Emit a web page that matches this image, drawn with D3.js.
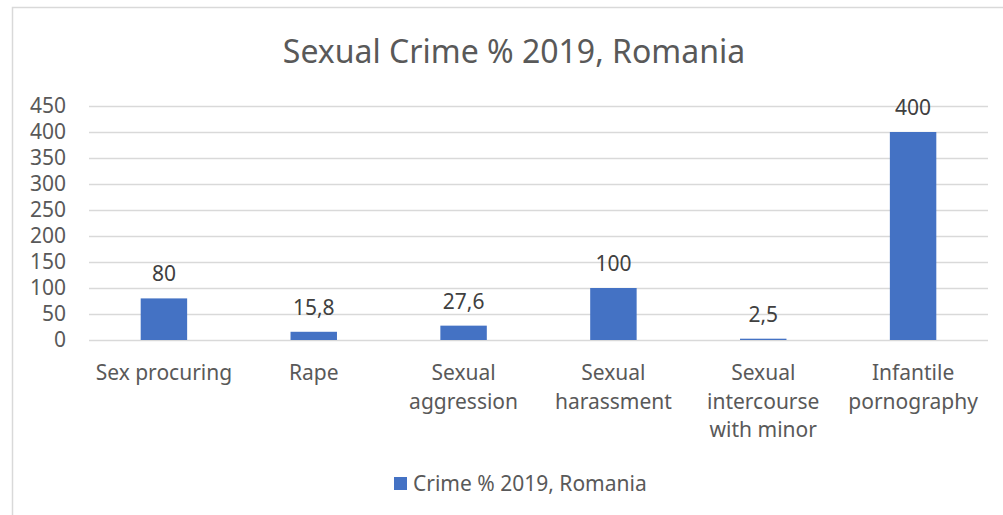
<!DOCTYPE html>
<html>
<head>
<meta charset="utf-8">
<script src="https://cdn.jsdelivr.net/npm/d3@7"></script>
<style>
  html, body { margin: 0; padding: 0; background: #fff; }
  svg { display: block; font-family: "Noto Sans", "Open Sans", sans-serif; }
</style>
</head>
<body>
<div id="chart"></div>
<script>
// data
const categories = ["Sex procuring", "Rape", "Sexual aggression", "Sexual harassment", "Sexual intercourse with minor", "Infantile pornography"];
const values = [80, 15.8, 27.6, 100, 2.5, 400];
const yTicks = [0, 50, 100, 150, 200, 250, 300, 350, 400, 450];
const seriesName = "Crime % 2019, Romania";
const title = "Sexual Crime % 2019, Romania";

const width = 1003, height = 515;
const margins = {top: 106, left: 89, right: 15, bottom: 175};
const textColor = "#595959", gridColor = "#d9d9d9", barColor = "#4472C4";

const svg = d3.select("#chart").append("svg")
    .attr("width", width)
    .attr("height", height);

// outer chart frame (only top and left edges are visible)
svg.append("path")
    .attr("d", `M12.5,${height} V7.5 H${width}`)
    .attr("fill", "none")
    .attr("stroke", gridColor)
    .attr("stroke-width", 1.5);

const x = d3.scaleBand()
    .domain(categories)
    .range([margins.left, width - margins.right])
    .paddingInner(0.69)
    .paddingOuter(0.345);

const y = d3.scaleLinear()
    .domain([0, 450])
    .range([height - margins.bottom, margins.top]);

// gridlines
svg.append("g")
    .selectAll("line")
    .data(yTicks)
    .join("line")
    .attr("x1", margins.left)
    .attr("x2", width - margins.right)
    .attr("y1", d => Math.round(y(d)) + 0.5)
    .attr("y2", d => Math.round(y(d)) + 0.5)
    .attr("stroke", gridColor)
    .attr("stroke-width", 1.5);

// y axis labels
const yAxis = svg.append("g")
    .attr("transform", `translate(${margins.left - 23},0)`)
    .call(d3.axisLeft(y).tickValues(yTicks).tickSize(0).tickPadding(0));
yAxis.select(".domain").remove();
yAxis.selectAll("text")
    .attr("fill", textColor)
    .style("font-size", "21px")
    .style("font-family", "'Noto Sans', sans-serif");

// bars
svg.append("g")
    .selectAll("rect")
    .data(values)
    .join("rect")
    .attr("x", (d, i) => x(categories[i]))
    .attr("y", d => y(d))
    .attr("width", x.bandwidth())
    .attr("height", d => y(0) - y(d))
    .attr("fill", barColor);

// data labels, decimal comma as in the original
const fmt = v => String(v).replace(".", ",");
svg.append("g")
    .selectAll("text")
    .data(values)
    .join("text")
    .attr("x", (d, i) => x(categories[i]) + x.bandwidth() / 2)
    .attr("y", d => y(d) - 17)
    .attr("text-anchor", "middle")
    .attr("fill", "#404040")
    .style("font-size", "21px")
    .text(fmt);

// category labels with wrapping
const labelG = svg.append("g");
categories.forEach(c => {
    const cx = x(c) + x.bandwidth() / 2;
    const t = labelG.append("text")
        .attr("text-anchor", "middle")
        .attr("fill", textColor)
        .style("font-size", "21px");
    const words = c.split(" ");
    let line = [], lineNo = 0;
    let tspan = t.append("tspan").attr("x", cx).attr("y", 380);
    words.forEach(w => {
        line.push(w);
        tspan.text(line.join(" "));
        if (tspan.node().getComputedTextLength() > 140 && line.length > 1) {
            line.pop();
            tspan.text(line.join(" "));
            line = [w];
            lineNo++;
            tspan = t.append("tspan").attr("x", cx).attr("y", 380 + lineNo * 28.5).text(w);
        }
    });
});

// title
svg.append("text")
    .attr("x", 514)
    .attr("y", 63)
    .attr("text-anchor", "middle")
    .attr("fill", textColor)
    .style("font-size", "32px")
    .text(title);

// legend
const legend = svg.append("g");
legend.append("rect")
    .attr("x", 394).attr("y", 477)
    .attr("width", 13).attr("height", 13)
    .attr("fill", barColor);
legend.append("text")
    .attr("x", 413).attr("y", 491)
    .attr("fill", textColor)
    .style("font-size", "21px")
    .text(seriesName);
</script>
</body>
</html>
